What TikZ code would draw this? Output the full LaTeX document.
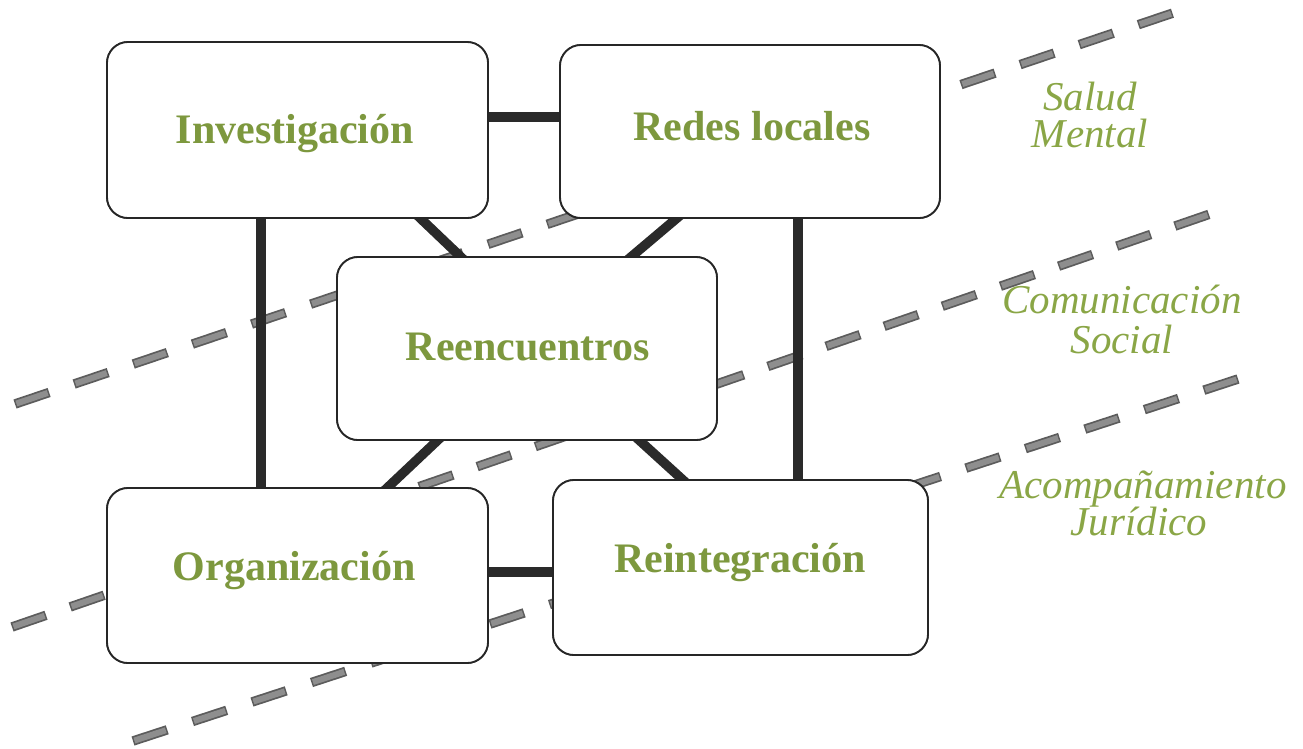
\documentclass[tikz,border=0pt]{standalone}
\usepackage{fontspec}
\setmainfont{Liberation Serif}
\usetikzlibrary{calc}
\definecolor{olive}{HTML}{7D983E}
\definecolor{lightolive}{HTML}{8AA646}
\definecolor{dashout}{HTML}{5C5C5C}
\definecolor{dashin}{HTML}{8E8E8E}
\definecolor{conncol}{HTML}{2A2A2A}
\tikzset{
  box/.style={draw=black!85, line width=1.8pt, fill=white, rounded corners=21pt, inner sep=0pt},
  conn/.style={draw=conncol, line width=9.5pt, shorten <=-6pt, shorten >=-6pt},
  dashouter/.style={draw=dashout, line width=9.5pt, dash pattern=on 36pt off #1pt},
  dashinner/.style={draw=dashin, line width=6pt, dash pattern=on 0pt off 1.5pt on 33pt off #1pt},
  boxlab/.style={text=olive, font=\fontsize{42}{50}\selectfont\bfseries, anchor=base, inner sep=0pt},
  sidelab/.style={text=lightolive, font=\fontsize{41}{48}\selectfont\itshape, anchor=base, inner sep=0pt}
}
\begin{document}
\begin{tikzpicture}[x=1pt,y=-1pt]
\useasboundingbox (0,0) rectangle (1303,748);
% dashed separating lines
\coordinate (d1s) at (15,404);
\coordinate (d1e) at (1173,13);
\coordinate (d2s) at (12,627);
\coordinate (d2e) at (1210,214);
\coordinate (d3s) at (133,741);
\coordinate (d3e) at (1238,379);
\foreach \a/\b/\o/\i in {d1s/d1e/26.4/27.9,d2s/d2e/25.5/27.0,d3s/d3e/26.6/28.1}{
  \draw[dashouter=\o] (\a) -- (\b);
  \draw[dashinner=\i] (\a) -- (\b);
}
% box positions
\path
  node[box, minimum width=381pt, minimum height=176pt] (inv) at (297.5,130) {}
  node[box, minimum width=380pt, minimum height=173pt] (red) at (750,131.5) {}
  node[box, minimum width=380pt, minimum height=183pt] (ree) at (527,348.5) {}
  node[box, minimum width=381pt, minimum height=175pt] (org) at (297.5,575.5) {}
  node[box, minimum width=375pt, minimum height=175pt] (rei) at (740.5,567.5) {};
% connectors
\draw[conn] (inv.east |- 0,117) -- (red.west |- 0,117);
\draw[conn] (org.east |- 0,572) -- (rei.west |- 0,572);
\draw[conn] (inv.south -| 261,0) -- (org.north -| 261,0);
\draw[conn] (red.south -| 798,0) -- (rei.north -| 798,0);
\draw[conn] (inv.south -| 421,0) -- (ree.north -| 460,0);
\draw[conn] (red.south -| 676,0) -- (ree.north -| 632,0);
\draw[conn] (ree.south -| 437,0) -- (org.north -| 388,0);
\draw[conn] (ree.south -| 640,0) -- (rei.north -| 682,0);
% boxes on top
\path
  node[box, minimum width=381pt, minimum height=176pt] (invb) at (inv) {}
  node[box, minimum width=380pt, minimum height=173pt] (redb) at (red) {}
  node[box, minimum width=380pt, minimum height=183pt] (reeb) at (ree) {}
  node[box, minimum width=381pt, minimum height=175pt] (orgb) at (org) {}
  node[box, minimum width=375pt, minimum height=175pt] (reib) at (rei) {};
% box texts
\node[boxlab] (invt) at (295,143) {Investigación};
\node[boxlab] (redt) at (752,140) {Redes locales};
\node[boxlab] (reet) at (528,360) {Reencuentros};
\node[boxlab] (orgt) at (294,580) {Organización};
\node[boxlab] (reit) at (740,572) {Reintegración};
% side labels
\node[sidelab] (salud) at (1090,110) {Salud};
\node[sidelab] (mental) at (1090,147) {Mental};
\node[sidelab] (comu) at (1122,313) {Comunicación};
\node[sidelab] (social) at (1122,353) {Social};
\node[sidelab] (acomp) at (1143,498) {Acompañamiento};
\node[sidelab] (juri) at (1139,535) {Jurídico};
\end{tikzpicture}
\end{document}
